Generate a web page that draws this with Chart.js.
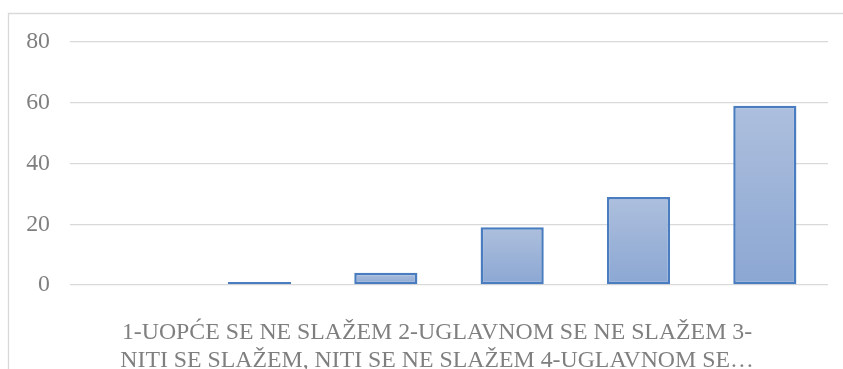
<!DOCTYPE html>
<html>
<head>
<meta charset="utf-8">
<script src="https://cdn.jsdelivr.net/npm/chart.js@4/dist/chart.umd.min.js"></script>
<style>
  html, body { margin: 0; padding: 0; background: #fff; }
  #wrap { width: 843px; height: 369px; position: relative; }
</style>
</head>
<body>
<div id="wrap"><canvas id="c" width="843" height="369"></canvas></div>
<script>
// One category, answered on a six-option scale; each option is its own series.
const categoryLines = [
  '1-UOPĆE SE NE SLAŽEM 2-UGLAVNOM SE NE SLAŽEM 3-',
  'NITI SE SLAŽEM, NITI SE NE SLAŽEM 4-UGLAVNOM SE…'
];
const seriesNames = ['0', '1', '2', '3', '4', '5'];
const seriesValues = [0, 1, 4, 19, 29, 59];
const yTicks = [0, 20, 40, 60, 80];

const textGray = '#7f7f7f';
const gridGray = '#d9d9d9';
const serif = '"Liberation Serif", "Times New Roman", serif';

// Vertical gradient fill for each bar, light at the top and darker at the base.
function barFill(ctx) {
  const chart = ctx.chart;
  const y = chart.scales && chart.scales.y;
  if (!y || ctx.type !== 'data') return '#9db3d8';
  const top = y.getPixelForValue(ctx.raw);
  const base = y.getPixelForValue(0);
  if (!(top < base)) return '#9db3d8';
  const g = chart.ctx.createLinearGradient(0, top, 0, base);
  g.addColorStop(0, '#adbfdd');
  g.addColorStop(1, '#8ba7d3');
  return g;
}

// Light frame around the chart object.
const chartFrame = {
  id: 'chartFrame',
  beforeDraw(chart) {
    const c = chart.ctx;
    c.save();
    c.strokeStyle = gridGray;
    c.lineWidth = 1.3;
    c.beginPath();
    c.moveTo(8.5, chart.height);
    c.lineTo(8.5, 13.5);
    c.lineTo(chart.width, 13.5);
    c.stroke();
    c.restore();
  }
};

// The wrapped category label sits slightly left of the plot centre.
const labelShift = {
  id: 'labelShift',
  afterUpdate(chart) {
    const xs = chart.scales.x;
    if (!xs || xs._shiftPatched) return;
    const orig = xs.drawLabels.bind(xs);
    xs.drawLabels = function (area) {
      const c = chart.ctx;
      c.save();
      c.translate(-12, 0);
      orig(area);
      c.restore();
    };
    xs._shiftPatched = true;
  }
};

const datasets = seriesNames.map((name, i) => ({
  label: name,
  data: [seriesValues[i]],
  backgroundColor: barFill,
  borderColor: '#4a7dbf',
  borderWidth: 2.5,
  borderSkipped: false,
  categoryPercentage: 1,
  barPercentage: 0.5
}));

new Chart(document.getElementById('c'), {
  type: 'bar',
  data: { labels: [categoryLines], datasets },
  options: {
    responsive: false,
    devicePixelRatio: 1,
    animation: false,
    layout: { padding: { top: 42, right: 15, bottom: 0, left: 0 } },
    plugins: { legend: { display: false }, tooltip: { enabled: false } },
    scales: {
      x: {
        grid: { display: false, drawTicks: false },
        border: { display: false },
        ticks: {
          color: textGray,
          font: { family: serif, size: 23.8, lineHeight: 1.2 },
          padding: 33,
          maxRotation: 0,
          autoSkip: false
        },
        afterFit(scale) { scale.height = 84; }
      },
      y: {
        min: 0,
        max: 80,
        afterBuildTicks(scale) { scale.ticks = yTicks.map(v => ({ value: v })); },
        grid: { color: gridGray, lineWidth: 1.3, drawTicks: false },
        border: { display: false },
        ticks: {
          color: textGray,
          font: { family: serif, size: 23.8 },
          padding: 20
        },
        afterFit(scale) { scale.width = 70; }
      }
    }
  },
  plugins: [chartFrame, labelShift]
});
</script>
</body>
</html>
